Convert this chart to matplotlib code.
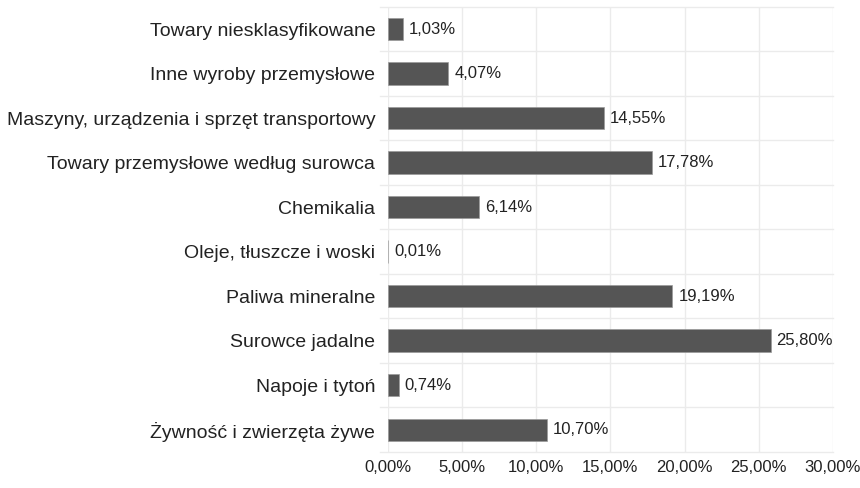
import numpy as np
import matplotlib.pyplot as plt

plt.rcParams['font.family'] = ['Liberation Sans', 'DejaVu Sans']

# Data (top to bottom in the chart)
categories = [
    'Towary niesklasyfikowane',
    'Inne wyroby przemysłowe',
    'Maszyny, urządzenia i sprzęt transportowy',
    'Towary przemysłowe według surowca',
    'Chemikalia',
    'Oleje, tłuszcze i woski',
    'Paliwa mineralne',
    'Surowce jadalne',
    'Napoje i tytoń',
    'Żywność i zwierzęta żywe',
]
shares = [1.03, 4.07, 14.55, 17.78, 6.14, 0.01, 19.19, 25.80, 0.74, 10.70]
xticks = [0, 5, 10, 15, 20, 25, 30]

grid_col = '#ebebeb'
bar_col = '#555555'

fig = plt.figure(figsize=(8.6, 4.88), dpi=100)
ax = fig.add_axes([0.451, 0.074, 0.5174, 0.912])

n = len(categories)
y = np.arange(n)[::-1]

ax.barh(y, shares, height=0.5, color=bar_col, edgecolor='#9a9a9a', linewidth=0.5, zorder=3)

def fmt(v):
    return f'{v:.2f}'.replace('.', ',') + '%'

for yi, v in zip(y, shares):
    ax.text(v + 0.4, yi, fmt(v), va='center', ha='left', fontsize=12, color='#222222', zorder=4)

ax.set_xlim(0, 30)
ax.set_ylim(-0.5, n - 0.5)
ax.set_xticks(xticks)
ax.set_xticklabels([fmt(t) for t in xticks], fontsize=12, color='#222222')
ax.set_yticks(y)
ax.set_yticklabels(categories, fontsize=14, color='#222222')

# vertical grid
for t in xticks:
    ax.axvline(t, color=grid_col, linewidth=1, zorder=1)
# category separators, extending a little left of the axis
for b in np.arange(-0.5, n, 1.0):
    ax.plot([-0.55, 30], [b, b], color=grid_col, linewidth=1, zorder=1, clip_on=False)

for s in ax.spines.values():
    s.set_visible(False)
ax.tick_params(axis='both', length=0)
ax.tick_params(axis='y', pad=9)
ax.tick_params(axis='x', pad=6)

fig.savefig('out.png', dpi=100)
